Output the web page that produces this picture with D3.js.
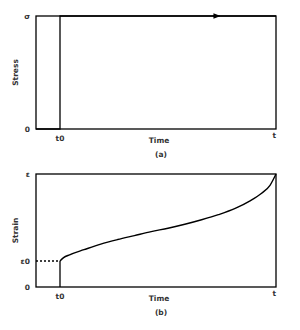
<!DOCTYPE html>
<html>
<head>
<meta charset="utf-8">
<script src="https://cdn.jsdelivr.net/npm/d3@7"></script>
<style>
  body { margin: 0; background: #fff; }
  text { font-family: "DejaVu Sans", sans-serif; font-weight: bold; fill: #333; }
</style>
</head>
<body>
<svg id="chart" width="300" height="330"></svg>
<script>
// DATA
const timeDomain = [0, 10];
const t0 = 1;
const arrowTime = 7.54;

const stressTimes = [0, 1, 1, 10];
const stressValues = [0, 0, 1, 1];

const strainEps0 = 0.23;
const strainTimes = [1, 1, 1.15, 1.4, 2, 2.7, 3.4, 4.1, 4.8, 5.5, 6.2, 6.9, 7.6, 8.3, 8.9, 9.4, 9.75, 10];
const strainValues = [0, 0.23, 0.26, 0.285, 0.33, 0.38, 0.42, 0.455, 0.49, 0.52, 0.555, 0.595, 0.64, 0.695, 0.76, 0.83, 0.9, 1.0];

const stressTicks = [{ v: 0, label: "0" }, { v: 1, label: "σ" }];
const strainTicks = [{ v: 0, label: "0" }, { v: strainEps0, label: "ε0" }, { v: 1, label: "ε" }];
const timeTicks = [{ v: t0, label: "t0" }, { v: 10, label: "t" }];

// CANVAS SETUP
const svg = d3.select("#chart");

svg.append("defs")
  .append("marker")
  .attr("id", "arrow")
  .attr("viewBox", "0 0 10 10")
  .attr("refX", 5)
  .attr("refY", 5)
  .attr("markerWidth", 7)
  .attr("markerHeight", 7)
  .attr("orient", "auto")
  .append("path")
  .attr("d", "M0,1 L10,5 L0,9 Z")
  .attr("fill", "#000");

function panel(top, bottom, yTicks, yTitle, caption) {
  const x = d3.scaleLinear().domain(timeDomain).range([36, 276]);
  const y = d3.scaleLinear().domain([0, 1]).range([bottom, top]);
  const g = svg.append("g");

  g.append("rect")
    .attr("x", x(timeDomain[0]))
    .attr("y", y(1))
    .attr("width", x(timeDomain[1]) - x(timeDomain[0]))
    .attr("height", y(0) - y(1))
    .attr("fill", "none")
    .attr("stroke", "#000")
    .attr("stroke-width", 1.3);

  g.selectAll(".ylab")
    .data(yTicks)
    .join("text")
    .attr("x", 30)
    .attr("y", (d) => y(d.v) + 2.5)
    .attr("text-anchor", "end")
    .attr("font-size", 7.5)
    .text((d) => d.label);

  g.selectAll(".xlab")
    .data(timeTicks)
    .join("text")
    .attr("x", (d) => x(d.v))
    .attr("y", (d) => (d.label === "t" ? y(0) + 9 : y(0) + 12))
    .attr("text-anchor", (d) => (d.label === "t" ? "end" : "middle"))
    .attr("font-size", 7.5)
    .text((d) => d.label);

  g.append("text")
    .attr("transform", `translate(18,${(y(0) + y(1)) / 2}) rotate(-90)`)
    .attr("text-anchor", "middle")
    .attr("font-size", 7.5)
    .text(yTitle);

  g.append("text")
    .attr("x", 159)
    .attr("y", y(0) + 14)
    .attr("text-anchor", "middle")
    .attr("font-size", 7.5)
    .text("Time");

  g.append("text")
    .attr("x", 161)
    .attr("y", y(0) + 28)
    .attr("text-anchor", "middle")
    .attr("font-size", 7.5)
    .text(caption);

  return { g, x, y };
}

// (a) STRESS
const a = panel(16, 129, stressTicks, "Stress", "(a)");
const stressData = stressTimes.map((t, i) => [t, stressValues[i]]);
a.g.append("path")
  .datum(stressData)
  .attr("fill", "none")
  .attr("stroke", "#000")
  .attr("stroke-width", 1.3)
  .attr("d", d3.line().x((d) => a.x(d[0])).y((d) => a.y(d[1])));
a.g.append("path")
  .attr("d", `M${a.x(arrowTime) - 4},${a.y(1)} L${a.x(arrowTime)},${a.y(1)}`)
  .attr("stroke", "#000")
  .attr("marker-end", "url(#arrow)");

// (b) STRAIN
const b = panel(174, 287, strainTicks, "Strain", "(b)");
b.g.append("line")
  .attr("x1", b.x(0))
  .attr("x2", b.x(t0))
  .attr("y1", b.y(strainEps0))
  .attr("y2", b.y(strainEps0))
  .attr("stroke", "#000")
  .attr("stroke-width", 1.3)
  .attr("stroke-dasharray", "2,2");
const strainData = strainTimes.map((t, i) => [t, strainValues[i]]);
b.g.append("path")
  .datum(strainData.slice(0, 2))
  .attr("fill", "none")
  .attr("stroke", "#000")
  .attr("stroke-width", 1.3)
  .attr("d", d3.line().x((d) => b.x(d[0])).y((d) => b.y(d[1])));
b.g.append("path")
  .datum(strainData.slice(1))
  .attr("fill", "none")
  .attr("stroke", "#000")
  .attr("stroke-width", 1.4)
  .attr("d", d3.line().curve(d3.curveMonotoneX).x((d) => b.x(d[0])).y((d) => b.y(d[1])));
</script>
</body>
</html>
